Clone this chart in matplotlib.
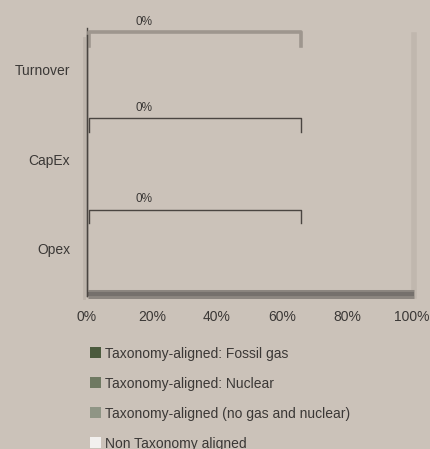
import matplotlib.pyplot as plt
from matplotlib.patches import Patch

plt.rcParams['font.family'] = ['Liberation Sans Narrow', 'Liberation Sans', 'DejaVu Sans']

# KPI rows and stacked shares (%)
categories = ['Turnover', 'CapEx', 'Opex']
fossil_gas = [0, 0, 0]
nuclear = [0, 0, 0]
no_gas_nuclear = [0, 0, 0]
non_aligned = [0, 0, 0]
aligned_total_labels = ['0%', '0%', '0%']

series_names = ['Taxonomy-aligned: Fossil gas',
                'Taxonomy-aligned: Nuclear',
                'Taxonomy-aligned (no gas and nuclear)',
                'Non Taxonomy aligned']
series_colors = ['#4b5a3d', '#6f7962', '#8f9585', '#f2f0ee']

bg = '#cbc2b9'
text_c = '#3b3836'

fig = plt.figure(figsize=(4.31, 4.49), dpi=100, facecolor=bg)
ax = fig.add_axes([0.2019, 0.341, 0.754, 0.581], facecolor=bg)

ypos = list(range(len(categories)))
left = [0] * len(categories)
for vals, col in zip([fossil_gas, nuclear, no_gas_nuclear, non_aligned], series_colors):
    ax.barh(ypos, vals, left=left, height=0.45, color=col)
    left = [l + v for l, v in zip(left, vals)]

ax.set_xlim(0, 100)
ax.set_ylim(2.525, -0.39)
ax.set_yticks(ypos)
ax.set_yticklabels(categories, fontsize=10, color=text_c)
ax.set_xticks([0, 20, 40, 60, 80, 100])
ax.set_xticklabels([f'{t}%' for t in [0, 20, 40, 60, 80, 100]], fontsize=10, color=text_c)
ax.tick_params(length=0, pad=10)
ax.tick_params(axis='y', pad=12)
for s in ['top', 'right', 'bottom']:
    ax.spines[s].set_visible(False)
ax.spines['left'].set_color('#4a4541')
ax.spines['left'].set_linewidth(1.0)

# soft shadow frame along the right and bottom edges
ax.plot([100.6, 100.6], [-0.39, 2.525], color='#c0b7ae', lw=4, clip_on=False, zorder=0)
ax.plot([0.4, 100.6], [2.5, 2.5], color='#8c8680', lw=6.5, clip_on=False, solid_capstyle='butt')
ax.plot([0.4, 100.6], [2.5, 2.5], color='#75706c', lw=3, clip_on=False, solid_capstyle='butt')
ax.plot([-0.9, -0.9], [-0.36, 2.55], color='#bdb4ab', lw=2, clip_on=False, zorder=0)
ax.plot([0, 0], [-0.47, 2.525], color='#4a4541', lw=1.0, clip_on=False)

# brackets over the taxonomy-aligned share
offsets = [0.42, 0.46, 0.44]
bstyles = [dict(color='#9e968e', lw=2.6), dict(color='#4a4541', lw=1.0),
           dict(color='#4a4541', lw=1.0)]
for y, off, lab, st in zip(ypos, offsets, aligned_total_labels, bstyles):
    top = y - off
    leg = top + 0.15
    ax.plot([0.6, 0.6, 65.8, 65.8], [leg, top, top, leg], clip_on=False, **st)
    ax.text(17.5, top - 0.05, lab, fontsize=8.5, color=text_c, ha='center', va='bottom')

handles = [Patch(facecolor=c, edgecolor='none') for c in series_colors]
fig.legend(handles, series_names, loc='upper left', bbox_to_anchor=(0.209, 0.228),
           frameon=False, fontsize=10, labelcolor=text_c, handlelength=0.8,
           handleheight=0.8, handletextpad=0.25, labelspacing=1.15,
           borderaxespad=0, borderpad=0)

fig.savefig('out.png', dpi=100, facecolor=bg)
